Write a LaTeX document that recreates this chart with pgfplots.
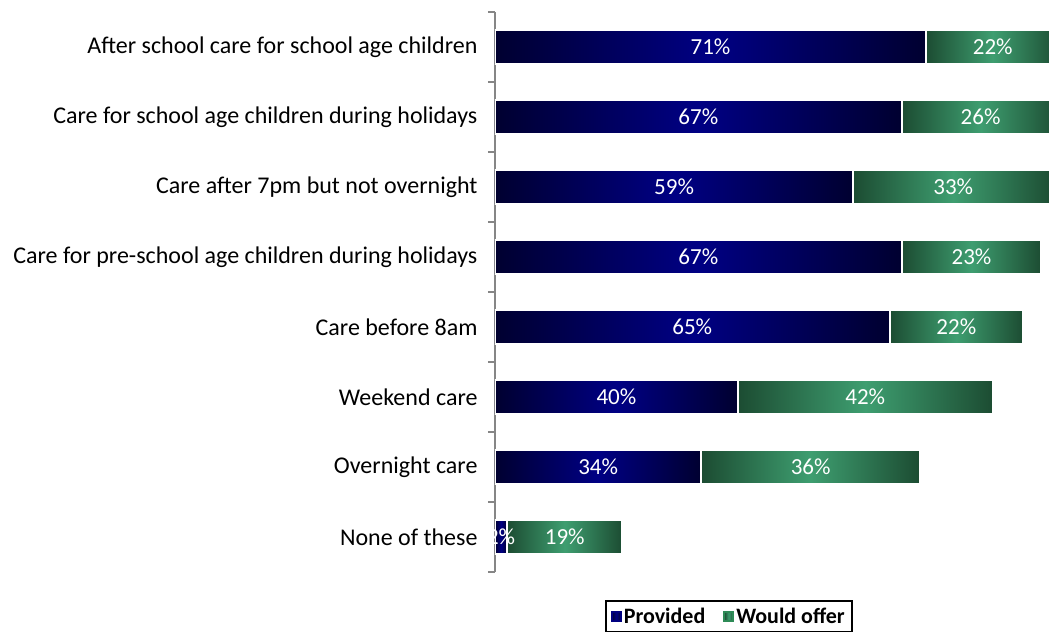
\documentclass[border=0pt]{standalone}
\usepackage{pgfplots}
\usepackage{pgfplotstable}
\pgfplotsset{compat=1.18}
\usepackage{fontspec}
\setmainfont{Carlito}

\definecolor{navyedge}{RGB}{0,0,48}
\definecolor{navymid}{RGB}{0,0,132}
\definecolor{navyleg}{RGB}{0,0,128}
\definecolor{greenedge}{RGB}{28,76,50}
\definecolor{greenmid}{RGB}{62,158,112}
\definecolor{greenleg}{RGB}{46,139,87}
\definecolor{axisgray}{RGB}{134,134,134}

% data labels, placed at the middle of each segment
\pgfplotstableread{
x     y t
35.5  0 71
82.0  0 22
33.5  1 67
80.0  1 26
29.5  2 59
75.5  2 33
33.5  3 67
78.5  3 23
32.5  4 65
76.0  4 22
20.0  5 40
61.0  5 42
17.0  6 34
52.0  6 36
1.0   7 2
11.5  7 19
}\labels

% middle color has to come after left/right color
\pgfplotsset{
  prov/.style={draw=white, line width=2pt, left color=navyedge, right color=navyedge, middle color=navymid},
  offer/.style={draw=white, line width=2pt, left color=greenedge, right color=greenedge, middle color=greenmid},
}

\begin{document}
\begin{tikzpicture}
\begin{axis}[
    scale only axis,
    width=554pt, height=560pt,
    xmin=0, xmax=91.27,
    ymin=-0.5, ymax=7.5, y dir=reverse,
    axis x line=none, axis y line*=left,
    y axis line style={axisgray, line width=1.8pt},
    ytick={0,...,7},
    yticklabels={After school care for school age children,
        Care for school age children during holidays,
        Care after 7pm but not overnight,
        Care for pre-school age children during holidays,
        Care before 8am, Weekend care, Overnight care, None of these},
    major tick length=0pt,
    extra y ticks={-0.5,0.5,1.5,2.5,3.5,4.5,5.5,6.5,7.5},
    extra y tick labels={,,,,,,,,},
    extra y tick style={major tick length=7pt, tick align=outside,
        tick style={axisgray, line width=1.8pt}},
    yticklabel style={font=\fontsize{24}{28}\selectfont, text=black, xshift=-14pt},
    clip=true,
    legend style={at={(0.422,0)}, anchor=north, yshift=-28pt,
        draw=black, line width=1.5pt, inner xsep=5pt, inner ysep=5pt,
        font=\bfseries\fontsize{22}{25}\selectfont, legend columns=2,
        /tikz/every even column/.append style={column sep=16pt}},
]
% provided (0 .. value)
\addplot[prov, legend image code/.code={\fill[navyleg] (0pt,-4.5pt) rectangle (9pt,4.5pt);}]
  coordinates {(0,-0.236) (71,-0.236) (71,0.236) (0,0.236)} -- cycle;
% would offer (value .. total)
\addplot[offer, legend image code/.code={\fill[greenleg] (0pt,-4.5pt) rectangle (9pt,4.5pt);}]
  coordinates {(71,-0.236) (93,-0.236) (93,0.236) (71,0.236)} -- cycle;
\addplot[prov, forget plot] coordinates {(0,0.764) (67,0.764) (67,1.236) (0,1.236)} -- cycle;
\addplot[offer, forget plot] coordinates {(67,0.764) (93,0.764) (93,1.236) (67,1.236)} -- cycle;
\addplot[prov, forget plot] coordinates {(0,1.764) (59,1.764) (59,2.236) (0,2.236)} -- cycle;
\addplot[offer, forget plot] coordinates {(59,1.764) (92,1.764) (92,2.236) (59,2.236)} -- cycle;
\addplot[prov, forget plot] coordinates {(0,2.764) (67,2.764) (67,3.236) (0,3.236)} -- cycle;
\addplot[offer, forget plot] coordinates {(67,2.764) (90,2.764) (90,3.236) (67,3.236)} -- cycle;
\addplot[prov, forget plot] coordinates {(0,3.764) (65,3.764) (65,4.236) (0,4.236)} -- cycle;
\addplot[offer, forget plot] coordinates {(65,3.764) (87,3.764) (87,4.236) (65,4.236)} -- cycle;
\addplot[prov, forget plot] coordinates {(0,4.764) (40,4.764) (40,5.236) (0,5.236)} -- cycle;
\addplot[offer, forget plot] coordinates {(40,4.764) (82,4.764) (82,5.236) (40,5.236)} -- cycle;
\addplot[prov, forget plot] coordinates {(0,5.764) (34,5.764) (34,6.236) (0,6.236)} -- cycle;
\addplot[offer, forget plot] coordinates {(34,5.764) (70,5.764) (70,6.236) (34,6.236)} -- cycle;
\addplot[prov, forget plot] coordinates {(0,6.764) (2,6.764) (2,7.236) (0,7.236)} -- cycle;
\addplot[offer, forget plot] coordinates {(2,6.764) (21,6.764) (21,7.236) (2,7.236)} -- cycle;
% percentages
\addplot[draw=none, forget plot, point meta=explicit symbolic,
    nodes near coords={\pgfplotspointmeta\%},
    every node near coord/.append style={anchor=center, text=white,
        font=\fontsize{23}{27}\selectfont}]
    table[x=x, y=y, meta=t] {\labels};
\legend{Provided, Would offer}
\end{axis}
\pgfresetboundingbox
\path[use as bounding box] ([xshift=-495pt,yshift=-67pt]current axis.south west)
    rectangle ([yshift=12pt]current axis.north east);
\end{tikzpicture}
\end{document}
